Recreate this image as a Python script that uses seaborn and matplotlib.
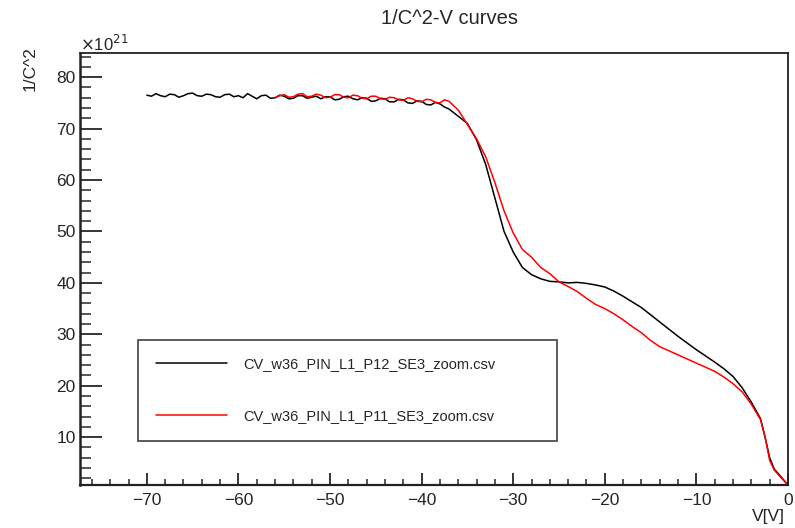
import numpy as np
import pandas as pd
import seaborn as sns
import matplotlib.pyplot as plt
from matplotlib.ticker import MultipleLocator

# Black curve: CV_w36_PIN_L1_P12_SE3_zoom.csv (1/C^2 in units of 1e21)
v_p12 = [-70, -69.5, -69, -68.5, -68, -67.5, -67, -66.5, -66, -65.5,
         -65, -64.5, -64, -63.5, -63, -62.5, -62, -61.5, -61, -60.5,
         -60, -59.5, -59, -58.5, -58, -57.5, -57, -56.5, -56, -55.5,
         -55, -54.5, -54, -53.5, -53, -52.5, -52, -51.5, -51, -50.5,
         -50, -49.5, -49, -48.5, -48, -47.5, -47, -46.5, -46, -45.5,
         -45, -44.5, -44, -43.5, -43, -42.5, -42, -41.5, -41, -40.5,
         -40, -39.5, -39, -38.5, -38, -37.5, -37, -36, -35, -34,
         -33, -32, -31, -30, -29, -28, -27, -26, -25, -24,
         -23, -22, -21, -20, -19, -18, -17, -16, -15, -14,
         -13, -12, -11, -10, -9, -8, -7, -6, -5, -4,
         -3, -2.5, -2, -1.5, -1, 0]
c_p12 = [76.5, 76.3, 76.8, 76.4, 76.2, 76.7, 76.6, 76.1, 76.4, 76.8,
         76.9, 76.4, 76.3, 76.7, 76.6, 76.2, 76.1, 76.6, 76.7, 76.2,
         76.4, 76.0, 76.8, 76.3, 75.8, 76.4, 76.5, 75.9, 76.0, 76.5,
         76.3, 75.8, 75.9, 76.4, 76.4, 75.9, 76.1, 76.3, 75.8, 76.2,
         76.2, 75.6, 75.7, 76.2, 76.3, 75.8, 75.6, 76.0, 75.9, 75.3,
         75.4, 75.9, 75.8, 75.2, 75.2, 75.7, 75.6, 75.0, 74.9, 75.4,
         75.3, 74.7, 74.6, 75.1, 74.8, 74.2, 73.8, 72.4, 71.0, 67.8,
         63.0, 56.5, 50.0, 46.0, 43.0, 41.6, 40.8, 40.3, 40.2, 40.0,
         40.1, 39.9, 39.6, 39.2, 38.4, 37.4, 36.3, 35.2, 33.8, 32.4,
         31.0, 29.6, 28.3, 27.0, 25.8, 24.6, 23.3, 21.8, 19.6, 16.8,
         13.6, 10.0, 6.0, 3.8, 2.8, 0.7]

# Red curve: CV_w36_PIN_L1_P11_SE3_zoom.csv
v_p11 = [-56, -55.5, -55, -54.5, -54, -53.5, -53, -52.5, -52, -51.5,
         -51, -50.5, -50, -49.5, -49, -48.5, -48, -47.5, -47, -46.5,
         -46, -45.5, -45, -44.5, -44, -43.5, -43, -42.5, -42, -41.5,
         -41, -40.5, -40, -39.5, -39, -38.5, -38, -37.5, -37,
         -36, -35, -34, -33, -32, -31, -30, -29, -28, -27,
         -26, -25, -24, -23, -22, -21, -20, -19, -18, -17,
         -16, -15, -14, -13, -12, -11, -10, -9, -8, -7,
         -6, -5, -4, -3, -2.5, -2, -1.5, -1, 0]
c_p11 = [76.0, 76.4, 76.6, 76.1, 76.2, 76.7, 76.8, 76.2, 76.3, 76.7,
         76.5, 76.0, 76.1, 76.6, 76.6, 76.1, 76.0, 76.5, 76.4, 75.9,
         75.8, 76.3, 76.3, 75.8, 75.7, 76.1, 76.0, 75.6, 75.5, 76.0,
         75.8, 75.3, 75.2, 75.7, 75.6, 75.1, 75.0, 75.6, 75.3,
         73.6, 70.8, 68.0, 64.5, 59.5, 54.0, 49.7, 46.5, 45.0, 43.0,
         41.8, 40.2, 39.3, 38.3, 37.0, 35.8, 35.0, 34.0, 32.8, 31.5,
         30.3, 28.8, 27.6, 26.8, 26.0, 25.2, 24.4, 23.6, 22.8, 21.7,
         20.4, 18.8, 16.4, 13.4, 10.0, 5.5, 3.6, 2.6, 0.7]

files = ["CV_w36_PIN_L1_P12_SE3_zoom.csv", "CV_w36_PIN_L1_P11_SE3_zoom.csv"]

df = pd.concat([
    pd.DataFrame({"V": v_p12, "invC2": c_p12, "file": files[0]}),
    pd.DataFrame({"V": v_p11, "invC2": c_p11, "file": files[1]}),
])

sns.set_style("ticks")
plt.rcParams["font.family"] = ["Liberation Sans", "DejaVu Sans"]

fig = plt.figure(figsize=(7.95, 5.28), dpi=100)
ax = fig.add_axes([0.1006, 0.0814, 0.8906, 0.8182])

sns.lineplot(data=df, x="V", y="invC2", hue="file", palette=["black", "red"],
             sort=False, estimator=None, linewidth=1.1, ax=ax)

ax.set_xlim(-77.3, 0)
ax.set_ylim(0.7, 84.7)
ax.xaxis.set_major_locator(MultipleLocator(10))
ax.xaxis.set_minor_locator(MultipleLocator(2))
ax.yaxis.set_major_locator(MultipleLocator(10))
ax.yaxis.set_minor_locator(MultipleLocator(2))
ax.tick_params(axis="y", which="major", direction="in", length=15.5, width=1.3, labelsize=12.5, pad=3)
ax.tick_params(axis="y", which="minor", direction="in", length=8, width=1.1)
ax.tick_params(axis="x", which="major", direction="in", length=8.5, width=1.3, labelsize=12.5, pad=6)
ax.tick_params(axis="x", which="minor", direction="in", length=4.3, width=1.1)
for s in ax.spines.values():
    s.set_visible(True)
    s.set_linewidth(1.3)
    s.set_color("#222222")
ax.spines["left"].set_linewidth(1.8)
ax.spines["bottom"].set_linewidth(1.6)
ax.set_xlabel("")
ax.set_ylabel("")

leg = ax.legend(loc="upper left", bbox_to_anchor=(0.082, 0.088, 0.592, 0.248), mode="expand",
                borderaxespad=0, fontsize=10.5, handlelength=4.9, handletextpad=1.1,
                labelspacing=2.6, borderpad=1.2, fancybox=False, frameon=True)
leg.get_frame().set_edgecolor("#222222")
leg.get_frame().set_linewidth(1.3)

fig.text(0.566, 1 - 18 / 528, "1/C^2-V curves", ha="center", va="center", fontsize=14.5)
fig.text(0.038, 1 - 46 / 528, "1/C^2", rotation=90, ha="center", va="top", fontsize=12.5)
fig.text(80 / 795, 1 - 44 / 528, r"$\times$10$^{21}$", ha="left", va="center", fontsize=12)
fig.text(785 / 795, 1 - 517 / 528, "V[V]", ha="right", va="center", fontsize=12.5)

fig.savefig("out.png", dpi=100)
